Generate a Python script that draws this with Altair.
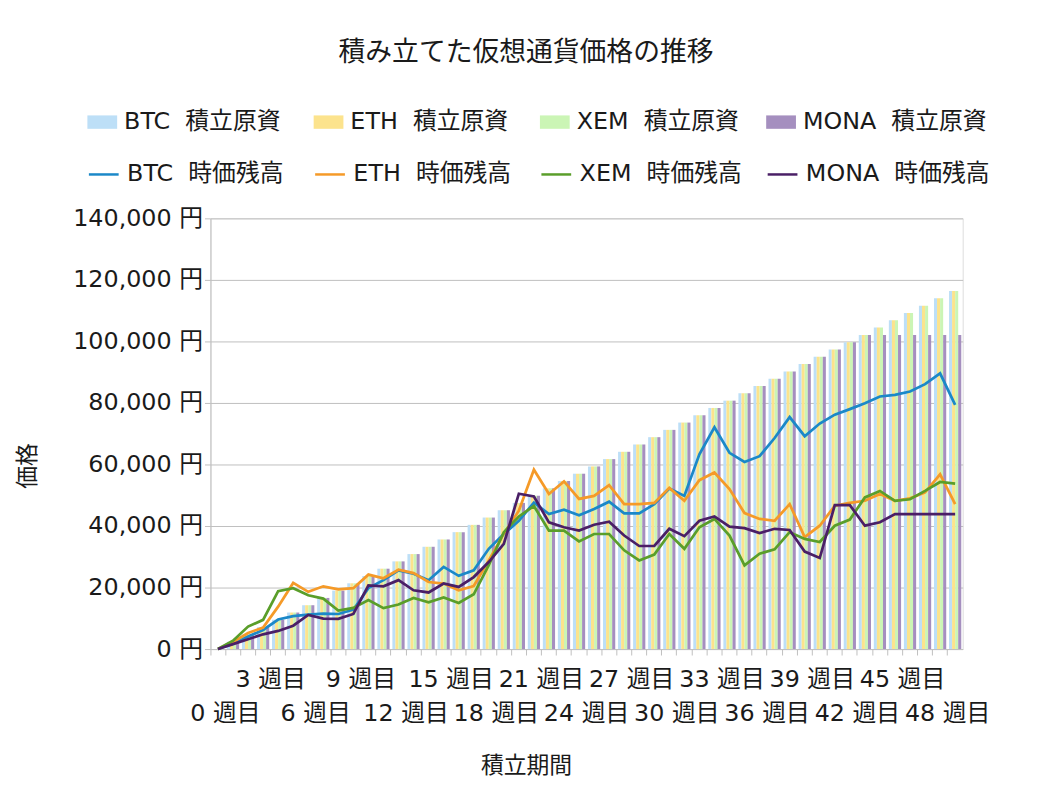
import altair as alt
import pandas as pd

FONT = "DejaVu Sans, Noto Sans CJK JP"
TXT = "#1a1a1a"
GRID = "#BFBFBF"

weeks = list(range(50))

principal = [0, 2375, 4750, 7125, 9500, 11875, 14250, 16625, 19000, 21375,
             23750, 26125, 28500, 30875, 33250, 35625, 38000, 40375, 42750, 45125,
             47500, 49875, 52250, 54625, 57000, 59375, 61750, 64125, 66500, 68875,
             71250, 73625, 76000, 78375, 80750, 83125, 85500, 87875, 90250, 92625,
             95000, 97375, 99750, 102125, 104500, 106875, 109250, 111625, 114000, 116375]

mona_principal = [0, 2375, 4750, 7125, 9500, 11875, 14250, 16625, 19000, 21375,
                  23750, 26125, 28500, 30875, 33250, 35625, 38000, 40375, 42750, 45125,
                  47500, 49875, 52250, 54625, 57000, 59375, 61750, 64125, 66500, 68875,
                  71250, 73625, 76000, 78375, 80750, 83125, 85500, 87875, 90250, 92625,
                  95000, 97375, 99750, 102125, 102125, 102125, 102125, 102125, 102125, 102125]

btc_value = [0, 1700, 4100, 6200, 9600, 10700, 11200, 11500, 11400, 12800,
             19800, 22400, 25600, 24500, 22400, 26700, 23800, 25600, 32600, 37400,
             41700, 47600, 43900, 45300, 43500, 45500, 47900, 44100, 44100, 47100,
             52200, 49800, 63300, 72100, 63800, 60800, 62700, 68600, 75400, 69200,
             73300, 76200, 78000, 79900, 82100, 82600, 83700, 86100, 89600, 79400]

eth_value = [0, 2300, 5200, 7000, 13800, 21500, 18600, 20400, 19400, 19800,
             24200, 23000, 25800, 24700, 21800, 21300, 19100, 20500, 28800, 37500,
             45000, 58300, 50400, 54500, 48800, 49800, 53300, 47100, 47100, 47500,
             52400, 48200, 54900, 57400, 52000, 44200, 42300, 41700, 47100, 36400,
             40100, 46600, 47500, 48200, 50400, 48200, 49000, 50900, 56800, 47100]

xem_value = [0, 2700, 7300, 9500, 18800, 19800, 17500, 16400, 12500, 13400,
             15900, 13300, 14500, 16600, 15200, 16800, 15000, 17800, 27300, 38000,
             43100, 46500, 38500, 38500, 35000, 37400, 37400, 32100, 28800, 30700,
             37400, 32600, 39600, 42300, 36900, 27200, 31000, 32400, 38000, 35800,
             34800, 40100, 42100, 49300, 51400, 48200, 48700, 51400, 54300, 53800]

mona_value = [0, 1600, 3200, 4800, 5900, 7600, 11100, 9900, 9800, 11400,
              20700, 20400, 22400, 19100, 18400, 21300, 20200, 23400, 28300, 34200,
              50500, 49600, 41200, 39600, 38500, 40400, 41400, 36900, 33500, 33500,
              39100, 36700, 41700, 43100, 39800, 39300, 37700, 39100, 38700, 31700,
              29600, 46800, 46800, 40100, 41200, 43900, 43900, 43900, 43900, 43900]

coins = ["BTC", "ETH", "XEM", "MONA"]
bar_names = [c + "\u00a0\u00a0積立原資" for c in coins]
line_names = [c + "\u00a0\u00a0時価残高" for c in coins]
bar_colors = ["#BDDFF7", "#FCE38D", "#CBF5B5", "#A58FBF"]
line_colors = ["#1B88C8", "#F59A28", "#5A9E2A", "#4A1F66"]

bar_series = [principal, principal, principal, mona_principal]
line_series = [btc_value, eth_value, xem_value, mona_value]

bars_df = pd.DataFrame(
    [{"week": w, "bseries": bar_names[i], "value": s[j]}
     for i, s in enumerate(bar_series) for j, w in enumerate(weeks)]
)
lines_df = pd.DataFrame(
    [{"week": w, "lseries": line_names[i], "value": s[j], "ord": i}
     for i, s in enumerate(line_series) for j, w in enumerate(weeks)]
)

x_enc = alt.X(
    "week:O",
    scale=alt.Scale(paddingInner=0, paddingOuter=0),
    axis=alt.Axis(
        title="積立期間", titleFont=FONT, titleFontSize=23, titleFontWeight="normal",
        titleColor=TXT, titleX=318, titleY=117, titleAlign="center", titleBaseline="middle",
        labelExpr="datum.value % 3 == 0 ? datum.value + ' 週目' : ''",
        labelAngle=0, labelFont=FONT, labelFontSize=24, labelColor=TXT,
        labelPadding={"condition": {"test": "datum.value % 6 == 0", "value": 47}, "value": 13},
        labelOffset=7.58, bandPosition=0, labelOverlap=False,
        ticks=True, tickSize=6, tickColor=GRID, domainColor=GRID, grid=False,
    ),
)

y_enc = alt.Y(
    "value:Q",
    scale=alt.Scale(domain=[0, 140000], nice=False),
    axis=alt.Axis(
        values=[0, 20000, 40000, 60000, 80000, 100000, 120000, 140000],
        labelExpr="format(datum.value, ',') + ' 円'",
        labelFont=FONT, labelFontSize=24, labelColor=TXT, labelPadding=2,
        title="価格", titleFont=FONT, titleFontSize=23, titleFontWeight="normal",
        titleColor=TXT, titleX=-184, titleY=249, titleAlign="center", titleBaseline="middle",
        gridColor=GRID, domainColor=GRID, tickColor=GRID, tickSize=6,
    ),
)

legend_common = dict(
    orient="none", columns=4, gridAlign="all", rowPadding=0,
    labelFont=FONT, labelFontSize=24, labelColor=TXT, labelOffset=7, labelLimit=400,
    title=None, padding=0, symbolSize=900,
)

bars = alt.Chart(bars_df).mark_bar().encode(
    x=x_enc,
    xOffset=alt.XOffset("bseries:N", scale=alt.Scale(domain=bar_names, paddingInner=0, paddingOuter=0.46)),
    y=y_enc,
    fill=alt.Fill(
        "bseries:N",
        scale=alt.Scale(domain=bar_names, range=bar_colors),
        legend=alt.Legend(legendX=-124, legendY=-112, columnPadding=5,
                          symbolType="M-1,-0.45L1,-0.45L1,0.45L-1,0.45Z",
                          symbolStrokeWidth=0, **legend_common),
    ),
)

lines = alt.Chart(lines_df).mark_line(strokeWidth=2.75).encode(
    x=x_enc,
    y=y_enc,
    stroke=alt.Stroke(
        "lseries:N",
        scale=alt.Scale(domain=line_names, range=line_colors),
        legend=alt.Legend(legendX=-124, legendY=-61, columnPadding=-2, symbolType="stroke",
                          symbolStrokeWidth=2.5, **legend_common),
    ),
    order="ord:Q",
)

chart = alt.layer(bars, lines).properties(
    width=758, height=434,
    title=alt.TitleParams("積み立てた仮想通貨価格の推移", font=FONT, fontSize=27,
                          fontWeight="normal", color=TXT, anchor="middle", dx=-61, dy=-37),
    autosize=alt.AutoSizeParams(type="none"),
    padding={"left": 204, "top": 209, "right": 88, "bottom": 135},
).configure_view(stroke=GRID).configure(background="white")

chart.save("out.html", embed_options={"renderer": "svg", "actions": False})
